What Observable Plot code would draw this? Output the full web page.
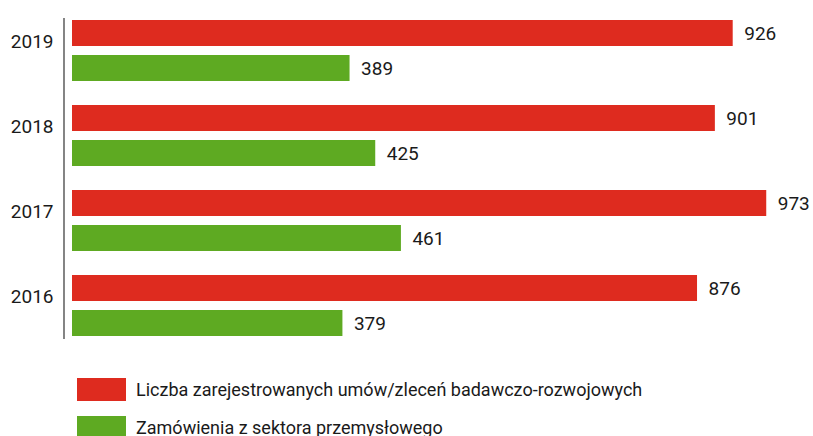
<!DOCTYPE html>
<html><head><meta charset="utf-8">
<script src="https://cdn.jsdelivr.net/npm/d3@7"></script>
<script src="https://cdn.jsdelivr.net/npm/@observablehq/plot@0.6"></script>
<style>
body{margin:0;background:#fff;font-family:Roboto,"Liberation Sans",sans-serif;color:#1a1a1a;}
#legend{position:relative;margin:28px 0 0 77px;}
.row{display:flex;align-items:center;height:23px;margin-bottom:15px;}
.sw{width:49px;height:23px;margin-right:10px;}
.lab{font-size:18px;}
</style></head>
<body>
<div id="chart"></div>
<div id="legend"></div>
<script>
const years = ["2019","2018","2017","2016"];
const seriesNames = ["Liczba zarejestrowanych umów/zleceń badawczo-rozwojowych","Zamówienia z sektora przemysłowego"];
const contracts = [926, 901, 973, 876];
const industry = [389, 425, 461, 379];
const colors = ["#de2b1f", "#5eaa22"];

const red = years.map((y,i)=>({year:y, value:contracts[i]}));
const green = years.map((y,i)=>({year:y, value:industry[i]}));

const plot = Plot.plot({
  width: 813, height: 350,
  marginLeft: 72, marginRight: 27.5, marginTop: 18, marginBottom: 11,
  style:{fontFamily:"Roboto, sans-serif", fontSize:"19px", color:"#1a1a1a", background:"#fff"},
  x:{domain:[0,1000], axis:null},
  y:{domain:years, paddingInner:24/86, paddingOuter:0.01, label:null},
  marks:[
    Plot.barX(red,{x:"value", y:"year", fill:colors[0], insetBottom:35}),
    Plot.barX(green,{x:"value", y:"year", fill:colors[1], insetTop:35}),
    Plot.text(red,{x:"value", y:"year", text:d=>String(d.value), dy:-17.5, dx:11, textAnchor:"start", fontSize:19, fill:"#1a1a1a"}),
    Plot.text(green,{x:"value", y:"year", text:d=>String(d.value), dy:17.5, dx:11, textAnchor:"start", fontSize:19, fill:"#1a1a1a"}),
    Plot.axisY({tickSize:0, tickPadding:19, dy:-9, fontSize:19, label:null}),
    Plot.ruleX([0],{dx:-8.5, stroke:"#333", strokeWidth:1.2})
  ]
});
document.getElementById("chart").appendChild(plot);

const leg = document.getElementById("legend");
seriesNames.forEach((n,i)=>{
  const r = document.createElement("div"); r.className="row";
  r.innerHTML = `<div class="sw" style="background:${colors[i]}"></div><span class="lab">${n}</span>`;
  leg.appendChild(r);
});
</script>
</body></html>
